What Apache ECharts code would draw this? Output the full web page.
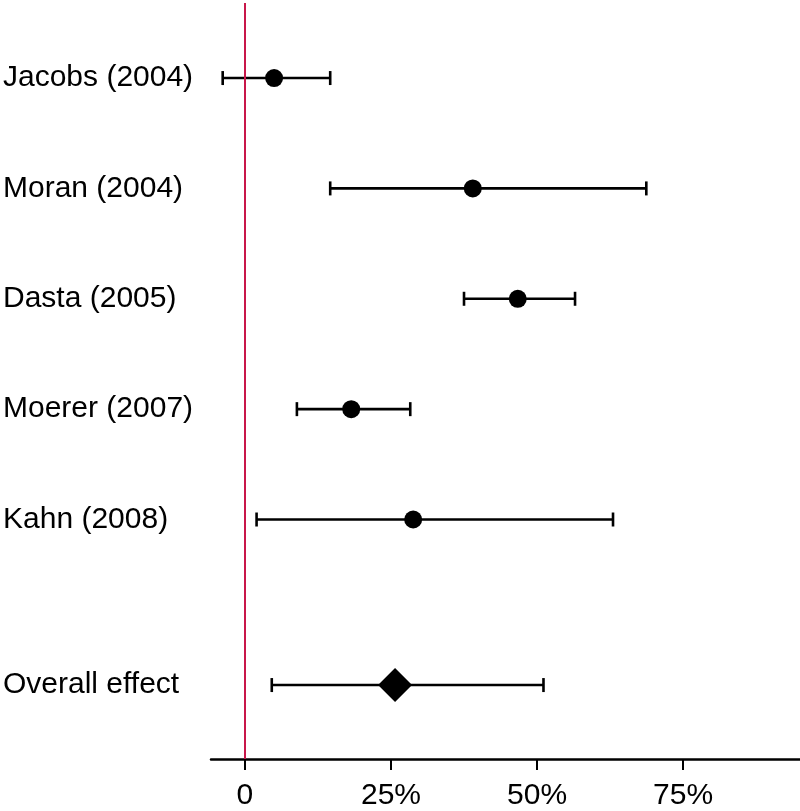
<!DOCTYPE html>
<html>
<head>
<meta charset="utf-8">
<script src="https://cdn.jsdelivr.net/npm/echarts@6/dist/echarts.min.js"></script>
<style>html,body{margin:0;padding:0;background:#fff}#c{width:800px;height:811px}</style>
</head>
<body>
<div id="c"></div>
<script>
var studies = ['Jacobs (2004)', 'Moran (2004)', 'Dasta (2005)', 'Moerer (2007)', 'Kahn (2008)', 'Overall effect'];
var rowPos = [0, 1, 2, 3, 4, 5.5];
var means = [5.0, 39.0, 46.7, 18.2, 28.8, 25.7];
var lows = [-3.8, 14.6, 37.5, 8.9, 2.0, 4.6];
var highs = [14.6, 68.7, 56.5, 28.3, 63.0, 51.1];
var xTicks = [0, 25, 50, 75];

var ciData = rowPos.map(function (y, i) { return [lows[i], highs[i], y]; });
var dotData = rowPos.slice(0, 5).map(function (y, i) { return [means[i], y]; });
var diamondData = [[means[5], rowPos[5]]];

var chart = echarts.init(document.getElementById('c'), null, { renderer: 'canvas' });
chart.setOption({
  animation: false,
  grid: { left: 211, right: 0, top: 3, bottom: 49 },
  xAxis: {
    type: 'value', min: -5.8, max: 95,
    splitLine: { show: false },
    axisLine: { show: true, onZero: false, lineStyle: { color: '#000', width: 2.5 } },
    axisTick: { show: true, length: 11, customValues: xTicks, lineStyle: { color: '#000', width: 2 } },
    axisLabel: {
      customValues: xTicks, margin: 22, color: '#000', fontSize: 30,
      fontFamily: 'Liberation Sans, Arial, sans-serif',
      formatter: function (v) { return v === 0 ? '0' : v + '%'; }
    }
  },
  yAxis: {
    type: 'value', min: -0.68, max: 6.17, inverse: true,
    splitLine: { show: false },
    axisLine: { show: false },
    axisTick: { show: false },
    axisLabel: {
      customValues: rowPos, align: 'left', margin: 208, color: '#000', fontSize: 30,
      fontFamily: 'Liberation Sans, Arial, sans-serif',
      formatter: function (v) {
        var i = rowPos.indexOf(v);
        return i >= 0 ? studies[i] : '';
      }
    }
  },
  series: [
    {
      type: 'custom',
      data: ciData,
      renderItem: function (params, api) {
        var p1 = api.coord([api.value(0), api.value(2)]);
        var p2 = api.coord([api.value(1), api.value(2)]);
        var h = 7;
        var st = { stroke: '#000', lineWidth: 2.6 };
        return {
          type: 'group',
          children: [
            { type: 'line', shape: { x1: p1[0], y1: p1[1], x2: p2[0], y2: p2[1] }, style: st },
            { type: 'line', shape: { x1: p1[0], y1: p1[1] - h, x2: p1[0], y2: p1[1] + h }, style: st },
            { type: 'line', shape: { x1: p2[0], y1: p2[1] - h, x2: p2[0], y2: p2[1] + h }, style: st }
          ]
        };
      },
      markLine: {
        silent: true, symbol: 'none', label: { show: false },
        lineStyle: { color: '#c8174a', width: 2, type: 'solid' },
        data: [{ xAxis: 0 }]
      },
      z: 2
    },
    {
      type: 'scatter', data: dotData, symbol: 'circle', symbolSize: 18,
      itemStyle: { color: '#000', opacity: 1 }, z: 3
    },
    {
      type: 'scatter', data: diamondData, symbol: 'diamond', symbolSize: [34, 34],
      itemStyle: { color: '#000', opacity: 1 }, z: 3
    }
  ]
});
</script>
</body>
</html>
